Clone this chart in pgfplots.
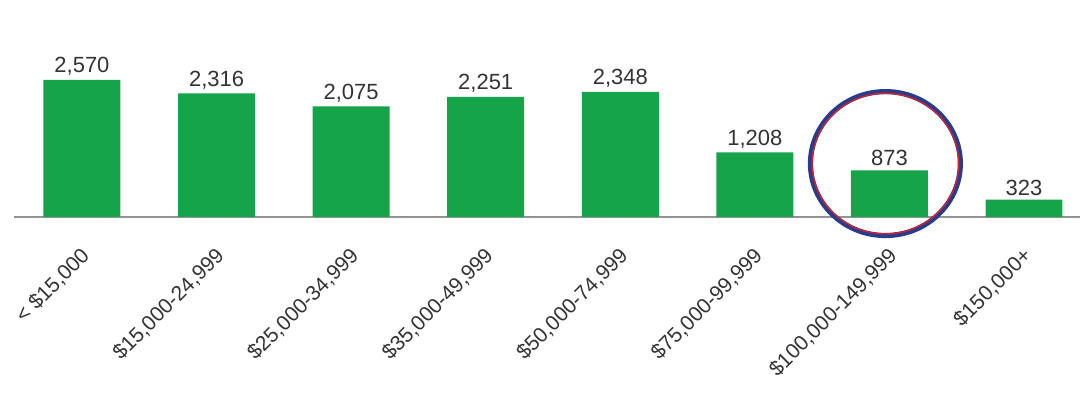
\documentclass[border=0pt]{standalone}
\usepackage{fontspec}
\setmainfont{Liberation Sans}
\usepackage{pgfplots}
\pgfplotsset{compat=1.18}
\definecolor{bargreen}{RGB}{22,164,74}
\definecolor{txt}{RGB}{51,51,51}
\definecolor{cblue}{RGB}{40,60,140}
\definecolor{cred}{RGB}{225,30,40}
\begin{document}
\begin{tikzpicture}
\begin{axis}[
  scale only axis, width=533.5pt, height=68.5pt,
  xmin=-0.505, xmax=7.416, ymin=0, ymax=2570,
  axis x line*=bottom, axis y line=none,
  x axis line style={draw=gray!85, line width=1pt},
  xtick=data,
  xticklabels={{< \$15,000},{\$15,000-24,999},{\$25,000-34,999},{\$35,000-49,999},{\$50,000-74,999},{\$75,000-99,999},{\$100,000-149,999},{\$150,000+}},
  major tick length=0pt,
  xticklabel style={rotate=45, anchor=east, font=\fontsize{10.5}{13}\selectfont, text=txt, inner sep=1pt, yshift=-14pt, xshift=-10pt},
  ybar, bar width=38.5pt, bar shift=0pt,
  clip=false,
  /pgf/number format/assume math mode=true,
  nodes near coords={\pgfmathprintnumber[fixed,1000 sep={,}]{\pgfplotspointmeta}},
  nodes near coords style={font=\fontsize{11}{13}\selectfont, text=txt, inner sep=2pt},
]
\addplot[fill=bargreen, draw=none] coordinates {(0,2570) (1,2316) (2,2075) (3,2251) (4,2348) (5,1208) (6,873) (7,323)};
\path (axis cs:-0.609,-3696) rectangle (axis cs:7.416,4071);
\draw[cblue, line width=2.6pt] (axis cs:5.97,1000) ellipse[x radius=37.5pt, y radius=36pt];
\draw[cred, line width=0.6pt] (axis cs:5.97,1000) ellipse[x radius=36.7pt, y radius=35.2pt];
\end{axis}
\end{tikzpicture}
\end{document}
